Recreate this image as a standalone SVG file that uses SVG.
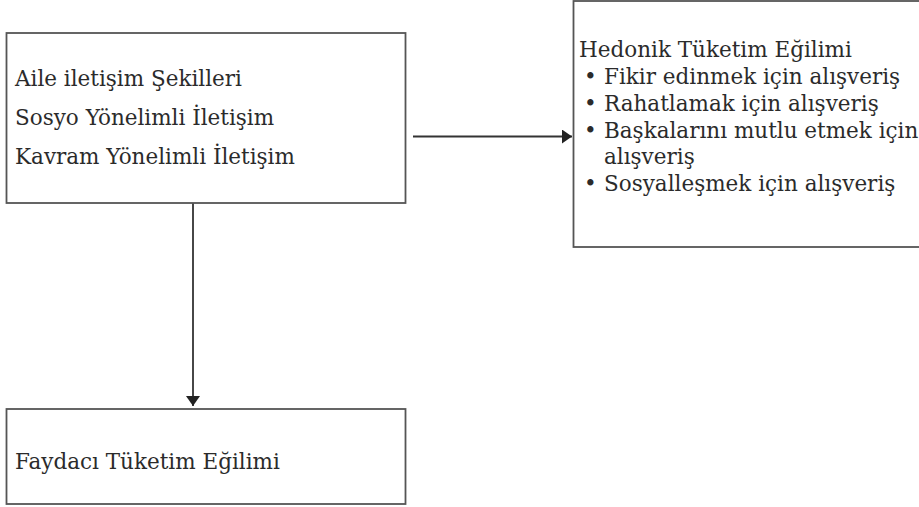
<svg xmlns="http://www.w3.org/2000/svg" width="919" height="507" viewBox="0 0 919 507">
<style>
.box{fill:#fff;stroke:#555;stroke-width:1.8}
.t{font-family:"DejaVu Serif","Liberation Serif",serif;font-size:21.5px;fill:#2b2b2b}
.ln{stroke:#333;stroke-width:1.8;fill:none}
</style>
<defs>
<marker id="ah" markerWidth="10" markerHeight="14" refX="10" refY="7" orient="auto" markerUnits="userSpaceOnUse">
<path d="M0,0 L10,7 L0,14 Z" fill="#222"/>
</marker>
</defs>
<rect width="919" height="507" fill="#fff"/>
<g id="connectors">
<line class="ln" x1="413" y1="136.5" x2="572" y2="136.5" marker-end="url(#ah)"/>
<line class="ln" x1="193" y1="203" x2="193" y2="406" marker-end="url(#ah)"/>
</g>
<g id="node-aile">
<rect class="box" x="6.5" y="33" width="399" height="170"/>
<text class="t" x="15" y="86">Aile iletişim Şekilleri</text>
<text class="t" x="15" y="125">Sosyo Yönelimli İletişim</text>
<text class="t" x="15" y="164">Kavram Yönelimli İletişim</text>
</g>
<g id="node-hedonik">
<rect class="box" x="573.5" y="1" width="350" height="246"/>
<text class="t" x="579" y="57">Hedonik Tüketim Eğilimi</text>
<text class="t" x="584" y="84">•</text><text class="t" x="604" y="84">Fikir edinmek için alışveriş</text>
<text class="t" x="584" y="111">•</text><text class="t" x="604" y="111">Rahatlamak için alışveriş</text>
<text class="t" x="584" y="138">•</text><text class="t" x="604" y="138">Başkalarını mutlu etmek için</text>
<text class="t" x="604" y="164">alışveriş</text>
<text class="t" x="584" y="191">•</text><text class="t" x="604" y="191">Sosyalleşmek için alışveriş</text>
</g>
<g id="node-faydaci">
<rect class="box" x="6.5" y="409" width="399" height="95"/>
<text class="t" x="15" y="469">Faydacı Tüketim Eğilimi</text>
</g>
</svg>
